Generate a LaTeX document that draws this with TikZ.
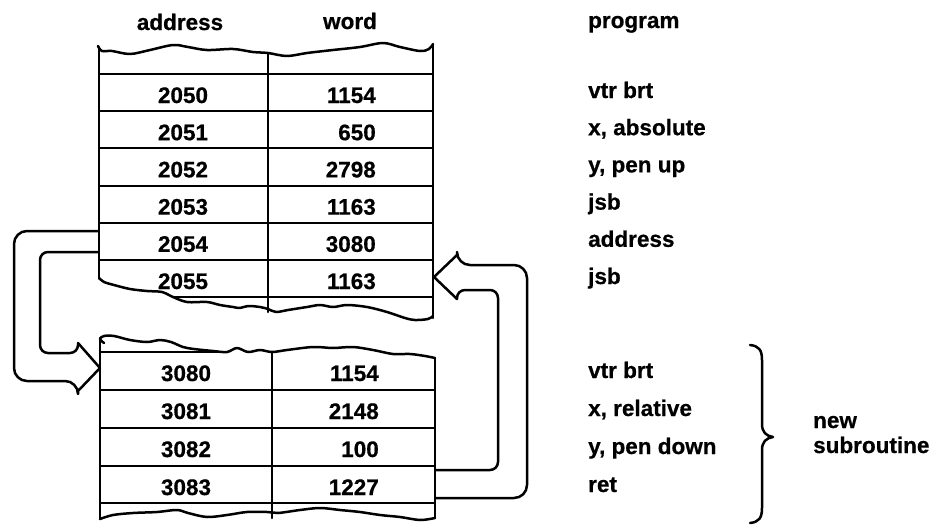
\documentclass[tikz,border=0pt]{standalone}
\usepackage{fontspec}
\setmainfont{Liberation Sans}[BoldFeatures={FakeBold=0.6}]
\begin{document}
\begin{tikzpicture}[x=1pt,y=-1pt,
  edge/.style={line width=2.5pt, line join=round, line cap=round},
  rowline/.style={line width=2pt},
  torn/.style={edge, smooth, tension=0.55},
  conn/.style={line width=2.5pt, line join=round},
  lbl/.style={font=\fontsize{22.5}{27}\selectfont\bfseries, inner sep=0pt, anchor=base},
  numw/.style={lbl, anchor=base east},
  rlbl/.style={lbl, anchor=base west},
]
\useasboundingbox (0,0) rectangle (940,525);

% ---------- headers ----------
\node[lbl]  (hA) at (180,30) {address};
\node[lbl]  (hW) at (350,29) {word};
\node[rlbl] (hP) at (588,28) {program};

% ---------- top table ----------
\coordinate (TL) at (99,48);
\coordinate (TM) at (268,53);
\coordinate (TR) at (433,45);
\draw[torn] plot coordinates {(98,46) (102,51) (112,51) (130,54) (150,50) (173,45) (188,47) (207,50) (233,49) (253,52) (268,53) (287,56) (307,53) (333,50) (360,47) (383,43) (400,47) (420,51) (429,49) (433,44)};
\draw[edge] (TL) -- (99,278);
\draw[edge] (TM) -- (268,312);
\draw[edge] (TR) -- (433,318);
\foreach \y in {74,111,148,186,223,260}
  \draw[rowline] (99,\y) -- (433,\y);
\draw[rowline] (172,297) -- (433,297);
\draw[torn] plot coordinates {(99,278) (104,282) (114,285) (130,289) (147,291) (162,292) (173,297) (187,302) (207,302) (220,305) (233,307) (240,308) (248,306) (260,307) (268,309) (276,312) (288,310) (307,307) (320,305) (333,307) (347,305) (367,307) (387,312) (405,318) (415,320) (428,319) (433,316)};

\foreach \a/\w/\p [count=\i from 0] in {2050/1154/vtr brt, 2051/650/{x, absolute}, 2052/2798/{y, pen up}, 2053/1163/jsb, 2054/3080/address, 2055/1163/jsb}{
  \pgfmathsetmacro{\yb}{103+37.2*\i}
  \node[lbl]  (ta\i) at (183,\yb) {\a};
  \node[numw] (tw\i) at (376,\yb) {\w};
  \node[rlbl] (tp\i) at (588,\yb-5) {\p};
}

% ---------- bottom table ----------
\coordinate (BL) at (100,338);
\coordinate (BM) at (272,352);
\coordinate (BR) at (435,358);
\draw[torn] plot coordinates {(104,343) (100,339) (104,336) (114,336) (130,340) (147,342) (160,340) (171,342) (183,347) (194,349) (213,351) (227,352) (237,348) (248,352) (260,350) (272,352) (287,350) (313,347) (333,348) (353,347) (373,350) (393,354) (410,354) (425,356) (435,358)};
\draw[edge] (BL) -- (100,519);
\draw[edge] (BM) -- (272,518);
\draw[edge] (BR) -- (435,518);
\draw[rowline] (100,352) -- (228,352);
\foreach \y in {390,428,466,503}
  \draw[rowline] (100,\y) -- (435,\y);
\draw[torn] plot coordinates {(100,519) (113,515) (133,513) (157,512) (177,510) (188,513) (207,517) (227,515) (247,512) (267,512) (278,513) (300,510) (320,508) (340,510) (360,512) (380,515) (400,517) (420,520) (435,518)};

\foreach \a/\w/\p [count=\i from 0] in {3080/1154/vtr brt, 3081/2148/{x, relative}, 3082/100/{y, pen down}, 3083/1227/ret}{
  \pgfmathsetmacro{\yb}{381+38*\i}
  \node[lbl]  (ba\i) at (186,\yb) {\a};
  \node[numw] (bw\i) at (379,\yb) {\w};
  \node[rlbl] (bp\i) at (588,\yb-3) {\p};
}

% ---------- brace and note ----------
\coordinate (brT) at (750,345);
\coordinate (brB) at (750,523);
\coordinate (brTip) at (773,437);
\draw[conn, line cap=round] (brT) .. controls (759,346) and (762,350) .. (762,360)
  -- (762,424) .. controls (762,432) and (766,436) .. (brTip)
  .. controls (766,438) and (762,442) .. (762,450)
  -- (762,508) .. controls (762,518) and (759,522) .. (brB);
\node[rlbl] (nN) at (813,428) {new};
\node[rlbl] (nS) at (813,453) {subroutine};

% ---------- left hollow arrow: 2054 -> 3080 ----------
\coordinate (lo1) at (99,231);
\coordinate (li1) at (99,252);
\coordinate (lTip) at (100,368);
\draw[conn] (lo1) [rounded corners=13pt] -- (14,231) -- (14,381) -- (78,381) [sharp corners] -- (78,391) -- (lTip);
\draw[conn] (li1) [rounded corners=8pt] -- (40,252) -- (40,353) -- (78,353) [sharp corners] -- (78,343) -- (lTip);

% ---------- right hollow arrow: 3083 -> 2055 ----------
\coordinate (ro1) at (435,498);
\coordinate (ri1) at (435,470);
\coordinate (rTip) at (434,277);
\draw[conn] (ro1) [rounded corners=13pt] -- (527,498) -- (527,265) -- (457,265) [sharp corners] -- (457,255) -- (rTip);
\draw[conn] (ri1) [rounded corners=8pt] -- (498,470) -- (498,290) -- (457,290) [sharp corners] -- (457,299) -- (rTip);
\end{tikzpicture}
\end{document}
